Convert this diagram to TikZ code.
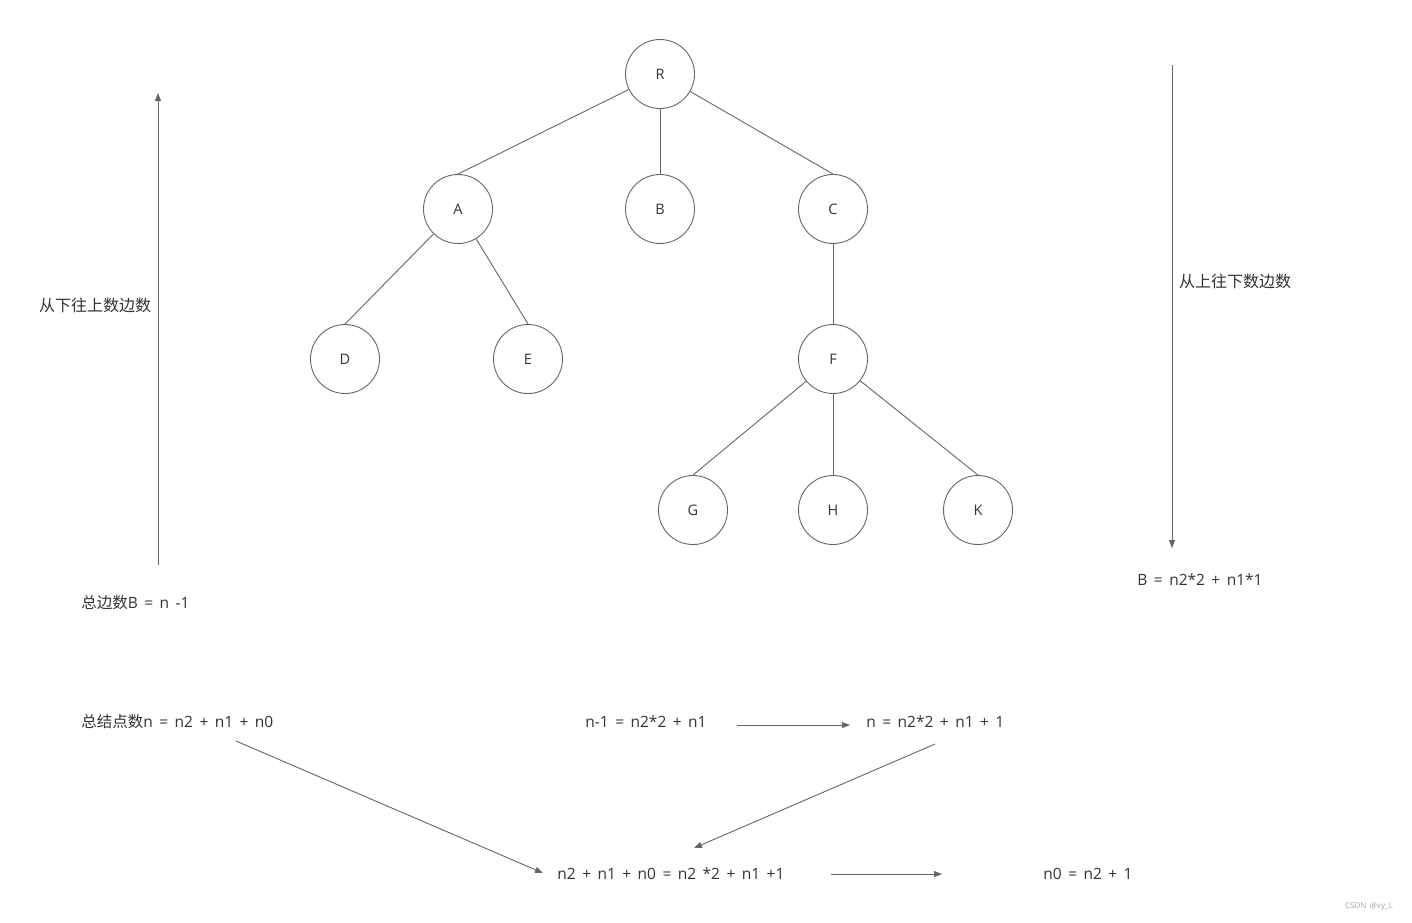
\documentclass[tikz,border=0pt]{standalone}
\usepackage{fontspec}
\setmainfont{Open Sans}[WordSpace=1.6]
\newfontfamily\cjk{Noto Sans CJK SC}
\usetikzlibrary{arrows.meta, positioning}
\definecolor{cline}{HTML}{666666}
\definecolor{ctext}{HTML}{333333}
\tikzset{
  every picture/.style={x=1pt, y=-1pt, line width=0.9pt},
  tnode/.style={circle, draw=cline, minimum size=69pt, inner sep=0pt, text=ctext, font=\fontsize{14.5}{18}\selectfont},
  edge/.style={draw=cline},
  arrow/.style={-{Triangle[length=8pt, width=6pt]}, draw=cline},
  formula/.style={anchor=west, inner sep=0pt, text=ctext, font=\fontsize{15.5}{19}\selectfont},
}

\begin{document}
\begin{tikzpicture}
  \useasboundingbox (0,0) rectangle (1412,922);
  % tree
  \foreach \n/\x/\y in {R/660/74, A/458/209, B/660/209, C/833/209, D/345/359, E/528/359, F/833/359, G/693/510, H/833/510, K/978/510}
    { \node[tnode] (\n) at (\x,\y) {\n}; }
  \foreach \a/\b in {R/A, R/B, R/C, A/D, A/E, C/F, F/G, F/H, F/K}
    { \draw[edge] (\a) -- (\b.north); }
  % counting edges, both directions
  \coordinate (up0) at (158,565);
  \coordinate (up1) at (158,93);
  \draw[arrow] (up0) -- (up1);
  \node[text=ctext, font=\fontsize{16}{19}\selectfont\cjk] (uplabel) at (95,305) {从下往上数边数};
  \coordinate (dn0) at (1172,65);
  \coordinate (dn1) at (1172,548);
  \draw[arrow] (dn0) -- (dn1);
  \node[text=ctext, font=\fontsize{16}{19}\selectfont\cjk] (dnlabel) at (1235,281) {从上往下数边数};
  % formulas
  \node[formula] (eqB) at (81,603) {{\cjk 总边数}B = n -1};
  \node[formula] (eqBb) at (1137,580) {B = n2*2 + n1*1};
  \node[formula] (eqN) at (81,722) {{\cjk 总结点数}n = n2 + n1 + n0};
  \node[formula] (eqN1) at (585,722) {n-1 = n2*2 + n1};
  \node[formula] (eqN2) at (866,722) {n = n2*2 + n1 + 1};
  \node[formula] (eqM) at (557,874) {n2 + n1 + n0 = n2 *2 + n1 +1};
  \node[formula] (eqR) at (1043,874) {n0 = n2 + 1};
  \coordinate (a1s) at (737,725);
  \coordinate (a1e) at (850,725);
  \draw[arrow] (a1s) -- (a1e);
  \coordinate (a2s) at (236,741);
  \coordinate (a2e) at (543,873);
  \draw[arrow] (a2s) -- (a2e);
  \coordinate (a3s) at (935,744);
  \coordinate (a3e) at (694,848);
  \draw[arrow] (a3s) -- (a3e);
  \coordinate (a4s) at (831,874);
  \coordinate (a4e) at (942,874);
  \draw[arrow] (a4s) -- (a4e);
  \node[text=gray!70, font=\fontsize{8}{10}\selectfont] (mark) at (1369,907) {CSDN @xy\_L};
\end{tikzpicture}
\end{document}
